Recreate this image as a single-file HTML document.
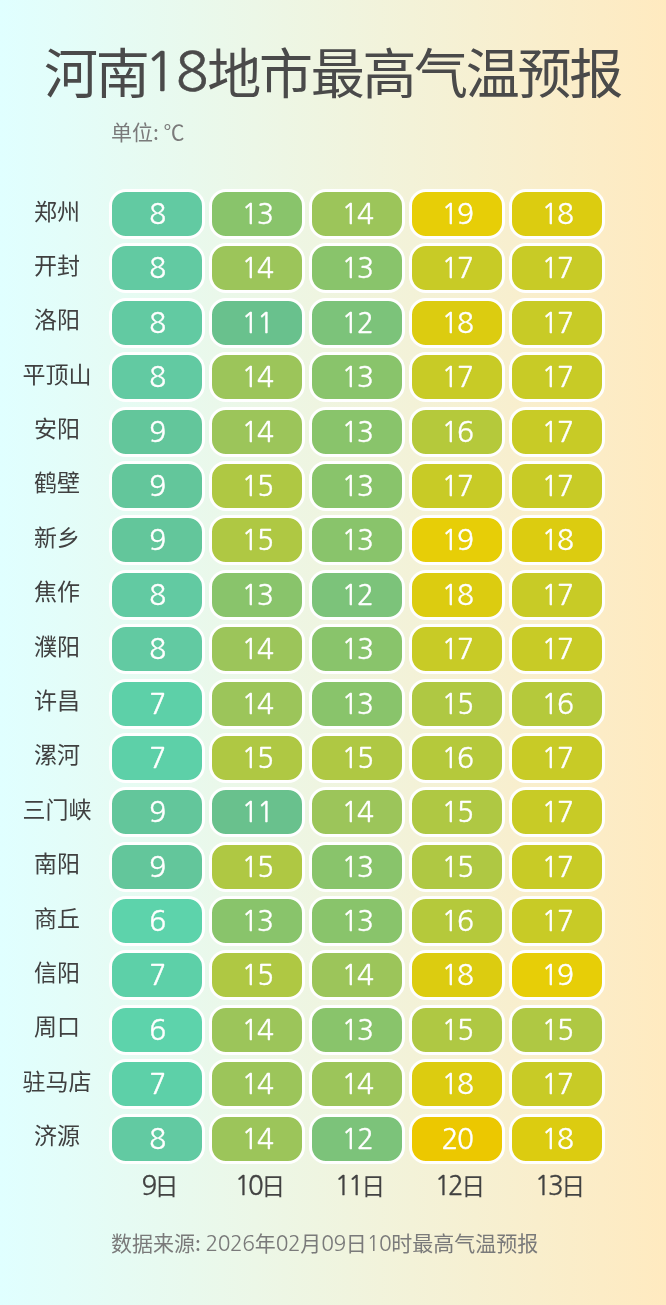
<!DOCTYPE html>
<html><head><meta charset="utf-8">
<style>
*{margin:0;padding:0;box-sizing:border-box}
html,body{width:666px;height:1305px;overflow:hidden}
body{position:relative;background:linear-gradient(90deg,#e0ffff 0%,#ffeac0 100%);font-family:"Liberation Sans","Noto Sans CJK SC",sans-serif}
.n{font-family:"NanumGothic","Liberation Sans",sans-serif}
.t,.u,.rl,.c,.cl,.f{will-change:transform}
.t{position:absolute;left:43.8px;top:36px;font-family:"Noto Sans CJK SC",sans-serif;font-weight:400;font-size:54px;letter-spacing:-2.3px;line-height:70px;color:#4a4a4a;white-space:nowrap}
.t .n{font-size:54px;letter-spacing:-1.2px;margin-left:-3.2px;position:relative;top:-3px;-webkit-text-stroke:0.6px #4a4a4a}
.f .n{letter-spacing:-0.45px}
.cl .n{font-size:26px;letter-spacing:-2.6px;-webkit-text-stroke:0.3px #3e3e3e}
.u{position:absolute;left:111px;top:117px;font-family:"Noto Sans CJK SC",sans-serif;font-size:21px;line-height:28px;color:#7a7a7a;white-space:nowrap}
.rl{position:absolute;left:1px;width:112px;height:54.39px;line-height:54.39px;text-align:center;font-family:"Noto Sans CJK SC",sans-serif;font-size:23px;font-weight:400;color:#404040;white-space:nowrap}
.c{position:absolute;width:95.90px;height:49.79px;border:3px solid #fff;border-radius:17px;color:#fff;text-align:center;font-family:"NanumGothic","Liberation Sans",sans-serif;font-size:28px;letter-spacing:-1.5px;line-height:43.79px;padding-top:1px;-webkit-text-stroke:0.35px #fff}
.cl{position:absolute;top:1168px;width:100.0px;text-align:center;font-family:"Noto Sans CJK SC",sans-serif;font-size:24px;font-weight:400;line-height:34px;color:#424242;white-space:nowrap}
.f{position:absolute;left:111px;top:1228px;font-family:"Noto Sans CJK SC",sans-serif;font-size:21px;line-height:28px;color:#7a7a7a;white-space:nowrap}
</style></head><body>
<div class="t">河南<span class="n">18</span>地市最高气温预报</div>
<div class="u">单位: ℃</div>
<div class="rl" style="top:182.50px">郑州</div><div class="rl" style="top:236.89px">开封</div><div class="rl" style="top:291.28px">洛阳</div><div class="rl" style="top:345.67px">平顶山</div><div class="rl" style="top:400.06px">安阳</div><div class="rl" style="top:454.45px">鹤壁</div><div class="rl" style="top:508.84px">新乡</div><div class="rl" style="top:563.23px">焦作</div><div class="rl" style="top:617.62px">濮阳</div><div class="rl" style="top:672.01px">许昌</div><div class="rl" style="top:726.40px">漯河</div><div class="rl" style="top:780.79px">三门峡</div><div class="rl" style="top:835.18px">南阳</div><div class="rl" style="top:889.57px">商丘</div><div class="rl" style="top:943.96px">信阳</div><div class="rl" style="top:998.35px">周口</div><div class="rl" style="top:1052.74px">驻马店</div><div class="rl" style="top:1107.13px">济源</div>
<div class="c" style="left:109.10px;top:189.00px;background:#62caa2">8</div><div class="c" style="left:209.10px;top:189.00px;background:#89c46b">13</div><div class="c" style="left:309.10px;top:189.00px;background:#9cc55a">14</div><div class="c" style="left:409.10px;top:189.00px;background:#e7ce07">19</div><div class="c" style="left:509.10px;top:189.00px;background:#dccc10">18</div><div class="c" style="left:109.10px;top:243.39px;background:#62caa2">8</div><div class="c" style="left:209.10px;top:243.39px;background:#9cc55a">14</div><div class="c" style="left:309.10px;top:243.39px;background:#89c46b">13</div><div class="c" style="left:409.10px;top:243.39px;background:#c8cb26">17</div><div class="c" style="left:509.10px;top:243.39px;background:#c8cb26">17</div><div class="c" style="left:109.10px;top:297.78px;background:#62caa2">8</div><div class="c" style="left:209.10px;top:297.78px;background:#69c18d">11</div><div class="c" style="left:309.10px;top:297.78px;background:#7cc37a">12</div><div class="c" style="left:409.10px;top:297.78px;background:#dccc10">18</div><div class="c" style="left:509.10px;top:297.78px;background:#c8cb26">17</div><div class="c" style="left:109.10px;top:352.17px;background:#62caa2">8</div><div class="c" style="left:209.10px;top:352.17px;background:#9cc55a">14</div><div class="c" style="left:309.10px;top:352.17px;background:#89c46b">13</div><div class="c" style="left:409.10px;top:352.17px;background:#c8cb26">17</div><div class="c" style="left:509.10px;top:352.17px;background:#c8cb26">17</div><div class="c" style="left:109.10px;top:406.56px;background:#63c69b">9</div><div class="c" style="left:209.10px;top:406.56px;background:#9cc55a">14</div><div class="c" style="left:309.10px;top:406.56px;background:#89c46b">13</div><div class="c" style="left:409.10px;top:406.56px;background:#b5c93b">16</div><div class="c" style="left:509.10px;top:406.56px;background:#c8cb26">17</div><div class="c" style="left:109.10px;top:460.95px;background:#63c69b">9</div><div class="c" style="left:209.10px;top:460.95px;background:#afc843">15</div><div class="c" style="left:309.10px;top:460.95px;background:#89c46b">13</div><div class="c" style="left:409.10px;top:460.95px;background:#c8cb26">17</div><div class="c" style="left:509.10px;top:460.95px;background:#c8cb26">17</div><div class="c" style="left:109.10px;top:515.34px;background:#63c69b">9</div><div class="c" style="left:209.10px;top:515.34px;background:#afc843">15</div><div class="c" style="left:309.10px;top:515.34px;background:#89c46b">13</div><div class="c" style="left:409.10px;top:515.34px;background:#e7ce07">19</div><div class="c" style="left:509.10px;top:515.34px;background:#dccc10">18</div><div class="c" style="left:109.10px;top:569.73px;background:#62caa2">8</div><div class="c" style="left:209.10px;top:569.73px;background:#89c46b">13</div><div class="c" style="left:309.10px;top:569.73px;background:#7cc37a">12</div><div class="c" style="left:409.10px;top:569.73px;background:#dccc10">18</div><div class="c" style="left:509.10px;top:569.73px;background:#c8cb26">17</div><div class="c" style="left:109.10px;top:624.12px;background:#62caa2">8</div><div class="c" style="left:209.10px;top:624.12px;background:#9cc55a">14</div><div class="c" style="left:309.10px;top:624.12px;background:#89c46b">13</div><div class="c" style="left:409.10px;top:624.12px;background:#c8cb26">17</div><div class="c" style="left:509.10px;top:624.12px;background:#c8cb26">17</div><div class="c" style="left:109.10px;top:678.51px;background:#5dd0a8">7</div><div class="c" style="left:209.10px;top:678.51px;background:#9cc55a">14</div><div class="c" style="left:309.10px;top:678.51px;background:#89c46b">13</div><div class="c" style="left:409.10px;top:678.51px;background:#afc843">15</div><div class="c" style="left:509.10px;top:678.51px;background:#b5c93b">16</div><div class="c" style="left:109.10px;top:732.90px;background:#5dd0a8">7</div><div class="c" style="left:209.10px;top:732.90px;background:#afc843">15</div><div class="c" style="left:309.10px;top:732.90px;background:#afc843">15</div><div class="c" style="left:409.10px;top:732.90px;background:#b5c93b">16</div><div class="c" style="left:509.10px;top:732.90px;background:#c8cb26">17</div><div class="c" style="left:109.10px;top:787.29px;background:#63c69b">9</div><div class="c" style="left:209.10px;top:787.29px;background:#69c18d">11</div><div class="c" style="left:309.10px;top:787.29px;background:#9cc55a">14</div><div class="c" style="left:409.10px;top:787.29px;background:#afc843">15</div><div class="c" style="left:509.10px;top:787.29px;background:#c8cb26">17</div><div class="c" style="left:109.10px;top:841.68px;background:#63c69b">9</div><div class="c" style="left:209.10px;top:841.68px;background:#afc843">15</div><div class="c" style="left:309.10px;top:841.68px;background:#89c46b">13</div><div class="c" style="left:409.10px;top:841.68px;background:#afc843">15</div><div class="c" style="left:509.10px;top:841.68px;background:#c8cb26">17</div><div class="c" style="left:109.10px;top:896.07px;background:#5dd3ab">6</div><div class="c" style="left:209.10px;top:896.07px;background:#89c46b">13</div><div class="c" style="left:309.10px;top:896.07px;background:#89c46b">13</div><div class="c" style="left:409.10px;top:896.07px;background:#b5c93b">16</div><div class="c" style="left:509.10px;top:896.07px;background:#c8cb26">17</div><div class="c" style="left:109.10px;top:950.46px;background:#5dd0a8">7</div><div class="c" style="left:209.10px;top:950.46px;background:#afc843">15</div><div class="c" style="left:309.10px;top:950.46px;background:#9cc55a">14</div><div class="c" style="left:409.10px;top:950.46px;background:#dccc10">18</div><div class="c" style="left:509.10px;top:950.46px;background:#e7ce07">19</div><div class="c" style="left:109.10px;top:1004.85px;background:#5dd3ab">6</div><div class="c" style="left:209.10px;top:1004.85px;background:#9cc55a">14</div><div class="c" style="left:309.10px;top:1004.85px;background:#89c46b">13</div><div class="c" style="left:409.10px;top:1004.85px;background:#afc843">15</div><div class="c" style="left:509.10px;top:1004.85px;background:#afc843">15</div><div class="c" style="left:109.10px;top:1059.24px;background:#5dd0a8">7</div><div class="c" style="left:209.10px;top:1059.24px;background:#9cc55a">14</div><div class="c" style="left:309.10px;top:1059.24px;background:#9cc55a">14</div><div class="c" style="left:409.10px;top:1059.24px;background:#dccc10">18</div><div class="c" style="left:509.10px;top:1059.24px;background:#c8cb26">17</div><div class="c" style="left:109.10px;top:1113.63px;background:#62caa2">8</div><div class="c" style="left:209.10px;top:1113.63px;background:#9cc55a">14</div><div class="c" style="left:309.10px;top:1113.63px;background:#7cc37a">12</div><div class="c" style="left:409.10px;top:1113.63px;background:#ecc800">20</div><div class="c" style="left:509.10px;top:1113.63px;background:#dccc10">18</div>
<div class="cl" style="left:109.80px"><span class="n">9</span>日</div><div class="cl" style="left:209.80px"><span class="n">10</span>日</div><div class="cl" style="left:309.80px"><span class="n">11</span>日</div><div class="cl" style="left:409.80px"><span class="n">12</span>日</div><div class="cl" style="left:509.80px"><span class="n">13</span>日</div>
<div class="f">数据来源: <span class="n">2026</span>年<span class="n">02</span>月<span class="n">09</span>日<span class="n">10</span>时最高气温预报</div>
</body></html>
